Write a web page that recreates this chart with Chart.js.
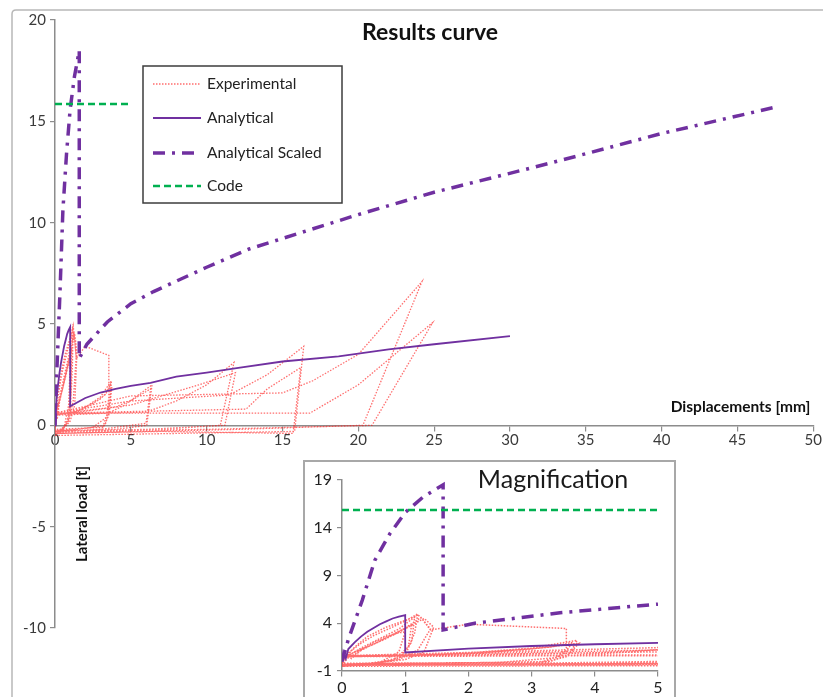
<!DOCTYPE html>
<html><head><meta charset="utf-8">
<script src="https://cdn.jsdelivr.net/npm/chart.js@4.4.1/dist/chart.umd.min.js"></script>
<style>
html,body{margin:0;padding:0;background:#fff;}
#wrap{position:relative;width:823px;height:697px;overflow:hidden;}
#main{position:absolute;left:0;top:0;}
#inset{position:absolute;left:303px;top:460px;}
</style></head><body>
<div id="wrap"><canvas id="main" width="823" height="697"></canvas><canvas id="inset" width="373" height="237"></canvas></div>
<script>
// ---------- DATA ----------
const seriesNames = ["Experimental", "Analytical", "Analytical Scaled", "Code"];

const expX = [
  0,0.05,0.15,0.3,0.5,0.7,0.9,1.0,0.9,0.6,0.2,0,
  0,0.1,0.4,0.7,1.0,1.1,1.05,0.8,0.3,0,
  0,0.1,0.3,0.5,0.8,1.05,1.2,1.15,1.0,0.5,0,
  0,0.2,0.4,0.7,1.0,1.15,1.1,0.9,0.4,0,
  0,0.2,0.5,0.8,1.1,1.3,1.45,1.3,1.0,0.5,0,
  0,0.3,0.6,0.9,1.2,1.3,1.4,1.2,0.9,0.4,0,
  0,0.5,1.0,1.25,1.4,2.0,3.55,3.55,3.4,2.5,1.0,0,
  0,1.0,2.0,3.0,3.72,3.6,3.3,1.5,0,
  0,1.5,3.0,3.75,3.55,3.2,0,
  0,2.0,3.3,3.65,3.5,3.1,0,
  0,3.5,4.6,5.5,6.4,6.05,4,0,
  0,4,5.2,6.3,6.0,3,0,
  0,6,8,10,11.8,10.9,7,0,
  0,5,9.5,11.9,11.2,6,0,
  0,5,11.5,14,16.4,15.8,8,0,
  0,12.6,14,16.2,15.7,7,0,
  0,5,15,17,20,24.2,20.3,12,0,
  0,16.8,20,24.9,20.9,10,0
];
const expY = [
  0,0.8,0.3,1.2,2.0,2.6,3.0,3.1,1.0,-0.1,-0.4,-0.5,
  -0.3,0.4,1.5,2.4,3.4,3.8,1.5,0.1,-0.3,-0.4,
  -0.2,0.9,1.9,2.7,3.6,4.4,5.0,3.0,0.6,-0.3,-0.4,
  0,1.5,2.6,3.6,4.3,4.7,2.0,0.3,-0.3,-0.4,
  0.3,1.0,1.8,2.8,3.8,4.5,3.6,1.0,0.2,-0.2,-0.3,
  0.2,1.4,2.4,3.4,4.9,4.2,3.4,1.2,0.2,-0.2,-0.3,
  0.4,1.8,3.5,4.6,3.3,3.9,3.45,1.4,0.4,-0.1,-0.2,-0.3,
  0.5,0.6,0.9,1.4,2.2,0.8,0.0,-0.2,-0.3,
  0.5,0.7,1.3,1.9,0.5,-0.1,-0.2,
  0.5,0.8,1.5,2.0,0.7,-0.2,-0.35,
  0.5,0.6,1.0,1.5,2.0,0.0,-0.2,-0.3,
  0.5,0.9,1.3,1.8,0.1,-0.2,-0.3,
  0.55,0.65,1.2,2.0,3.1,0.0,-0.2,-0.4,
  0.55,1.0,2.0,2.6,0.0,-0.2,-0.3,
  0.6,1.2,1.5,2.5,3.9,-0.3,-0.4,-0.5,
  0.6,0.8,1.8,2.85,-0.4,-0.3,-0.4,
  0.6,1.45,1.6,2.2,3.5,7.1,0.0,-0.2,-0.4,
  0.6,0.6,2.0,5.07,0.0,-0.2,-0.3
];

const anaX = [0,0.02,0.06,0.1,0.2,0.3,0.4,0.5,0.6,0.7,0.8,0.9,1.0,1.0,2,3,4,5,6.3,8,10,12.2,15,18.7,22,25,30];
const anaY = [0,1.0,0.3,1.3,2.0,2.6,3.1,3.5,3.9,4.2,4.5,4.7,4.85,0.94,1.35,1.62,1.8,1.95,2.1,2.4,2.6,2.85,3.15,3.4,3.75,4.0,4.4];

const scaledX = [0,0.1,0.32,0.52,0.76,1.0,1.28,1.6,1.6,2.1,3.45,5,6.5,10,12.8,16.6,20,25,31.4,35,40,47.5];
const scaledY = [0,2.3,6.4,10.6,13.4,15.6,17.2,18.5,3.3,4.0,5.1,6.0,6.6,7.8,8.7,9.6,10.4,11.5,12.7,13.4,14.4,15.7];

const codeX = [0,5];
const codeY = [15.85,15.85];

const mainXTicks = [0,5,10,15,20,25,30,35,40,45,50];
const mainYTicks = [-10,-5,0,5,10,15,20];
const insetXTicks = [0,1,2,3,4,5];
const insetYTicks = [-1,4,9,14,19];

const mainTitle = "Results curve";
const xTitle = "Displacements [mm]";
const yTitle = "Lateral load [t]";
const insetTitle = "Magnification";

// ---------- HELPERS ----------
const toXY = (xs, ys) => xs.map((x, i) => ({x: x, y: ys[i]}));
const FONT = "Lato, 'Open Sans', sans-serif";
const PURPLE = '#7030A0';
const GREEN = '#00B050';
const EXPCOL = 'rgba(255,20,20,0.62)';

function makeDatasets(inset) {
  return [
    {label: seriesNames[0], data: toXY(expX, expY), borderColor: EXPCOL, borderWidth: inset ? 1.5 : 1.3, borderDash: [1.5, 1.5], order: 4},
    {label: seriesNames[1], data: toXY(anaX, anaY), borderColor: PURPLE, borderWidth: 1.8, order: 3},
    {label: seriesNames[2], data: toXY(scaledX, scaledY), borderColor: PURPLE, borderWidth: 3.5, borderDash: [12, 7, 3, 7], order: 2},
    {label: seriesNames[3], data: toXY(codeX, codeY), borderColor: GREEN, borderWidth: 2.5, borderDash: [7, 4], order: 1}
  ].map(d => Object.assign({pointRadius: 0, fill: false, tension: 0, showLine: true}, d));
}

const axisGrid = {drawOnChartArea: false, drawTicks: true, tickLength: 5, color: '#8c8c8c', lineWidth: 1.2};
const axisBorder = {display: true, color: '#8c8c8c', width: 1.5};

const mainDecor = {
  id: 'mainDecor',
  beforeDraw(chart) {
    const c = chart.ctx;
    c.save();
    c.fillStyle = '#fff';
    c.fillRect(0, 0, chart.width, chart.height);
    c.strokeStyle = '#b8b8b8';
    c.lineWidth = 1.5;
    c.beginPath();
    c.moveTo(12, 697); c.lineTo(12, 14); c.quadraticCurveTo(12, 10, 16, 10); c.lineTo(823, 10);
    c.stroke();
    c.restore();
  },
  afterDraw(chart) {
    const c = chart.ctx;
    const xs = chart.scales.x, ys = chart.scales.y;
    c.save();
    c.fillStyle = '#111';
    c.font = "bold 23px " + FONT;
    c.textAlign = 'center'; c.textBaseline = 'middle';
    c.fillText(mainTitle, 430, 33);
    c.font = "bold 15.5px " + FONT;
    c.textAlign = 'right';
    c.fillText(xTitle, xs.right - 3, ys.getPixelForValue(0) - 18);
    c.save();
    c.translate(xs.getPixelForValue(0) + 27, 514);
    c.rotate(-Math.PI / 2);
    c.textAlign = 'center';
    c.font = "bold 15px " + FONT;
    c.fillText(yTitle, 0, 0);
    c.restore();
    // legend
    const bx = 143, by = 66, bw = 199, bh = 137;
    c.fillStyle = '#fff';
    c.fillRect(bx, by, bw, bh);
    c.strokeStyle = '#3c3c3c'; c.lineWidth = 1.5;
    c.strokeRect(bx, by, bw, bh);
    const rows = [84, 118, 153, 186];
    chart.data.datasets.forEach((d, i) => {
      const y = rows[i];
      c.save();
      c.strokeStyle = d.borderColor;
      c.lineWidth = Math.min(d.borderWidth, 3.5);
      c.setLineDash(d.borderDash || []);
      c.beginPath(); c.moveTo(153, y); c.lineTo(201, y); c.stroke();
      c.restore();
      c.fillStyle = '#222';
      c.font = "15.5px " + FONT;
      c.textAlign = 'left'; c.textBaseline = 'middle';
      c.fillText(d.label, 207, y);
    });
    c.restore();
  }
};

const insetDecor = {
  id: 'insetDecor',
  beforeDraw(chart) {
    const c = chart.ctx;
    c.save();
    c.fillStyle = '#fff';
    c.fillRect(0, 0, chart.width, chart.height);
    c.strokeStyle = '#a8a8a8'; c.lineWidth = 2;
    c.beginPath();
    c.moveTo(1, chart.height); c.lineTo(1, 1); c.lineTo(chart.width - 1, 1); c.lineTo(chart.width - 1, chart.height);
    c.stroke();
    c.restore();
  },
  afterDraw(chart) {
    const c = chart.ctx;
    c.save();
    c.fillStyle = '#1a1a1a';
    c.font = "25px " + FONT;
    c.textAlign = 'center'; c.textBaseline = 'middle';
    c.fillText(insetTitle, 250, 20);
    c.restore();
  }
};

Chart.defaults.font.family = FONT;
Chart.defaults.color = '#3a3a3a';

new Chart(document.getElementById('main'), {
  type: 'line',
  data: {datasets: makeDatasets(false)},
  options: {
    responsive: false, animation: false, events: [],
    layout: {padding: {left: 0, top: 20, right: 9, bottom: 69}},
    plugins: {legend: {display: false}, tooltip: {enabled: false}, title: {display: false}},
    scales: {
      x: {
        type: 'linear', min: 0, max: 50, position: {y: 0},
        afterBuildTicks: s => { s.ticks = mainXTicks.map(v => ({value: v})); },
        grid: axisGrid, border: axisBorder,
        ticks: {font: {size: 15}, padding: 1, maxRotation: 0, autoSkip: false}
      },
      y: {
        type: 'linear', min: -10, max: 20, position: 'left',
        afterFit: s => { s.width = 55; },
        afterBuildTicks: s => { s.ticks = mainYTicks.map(v => ({value: v})); },
        grid: axisGrid, border: axisBorder,
        ticks: {font: {size: 15}, padding: 4, autoSkip: false}
      }
    }
  },
  plugins: [mainDecor]
});

new Chart(document.getElementById('inset'), {
  type: 'line',
  data: {datasets: makeDatasets(true)},
  options: {
    responsive: false, animation: false, events: [],
    layout: {padding: {left: 0, top: 20, right: 18, bottom: 26}},
    plugins: {legend: {display: false}, tooltip: {enabled: false}, title: {display: false}},
    scales: {
      x: {
        type: 'linear', min: 0, max: 5, position: {y: -1},
        afterBuildTicks: s => { s.ticks = insetXTicks.map(v => ({value: v})); },
        grid: axisGrid, border: axisBorder,
        ticks: {font: {size: 16}, padding: 2, maxRotation: 0, autoSkip: false, color: '#222'}
      },
      y: {
        type: 'linear', min: -1, max: 19, position: 'left',
        afterFit: s => { s.width = 39; },
        afterBuildTicks: s => { s.ticks = insetYTicks.map(v => ({value: v})); },
        grid: axisGrid, border: axisBorder,
        ticks: {font: {size: 16}, padding: 5, autoSkip: false, color: '#222'}
      }
    }
  },
  plugins: [insetDecor]
});
</script>
</body></html>
